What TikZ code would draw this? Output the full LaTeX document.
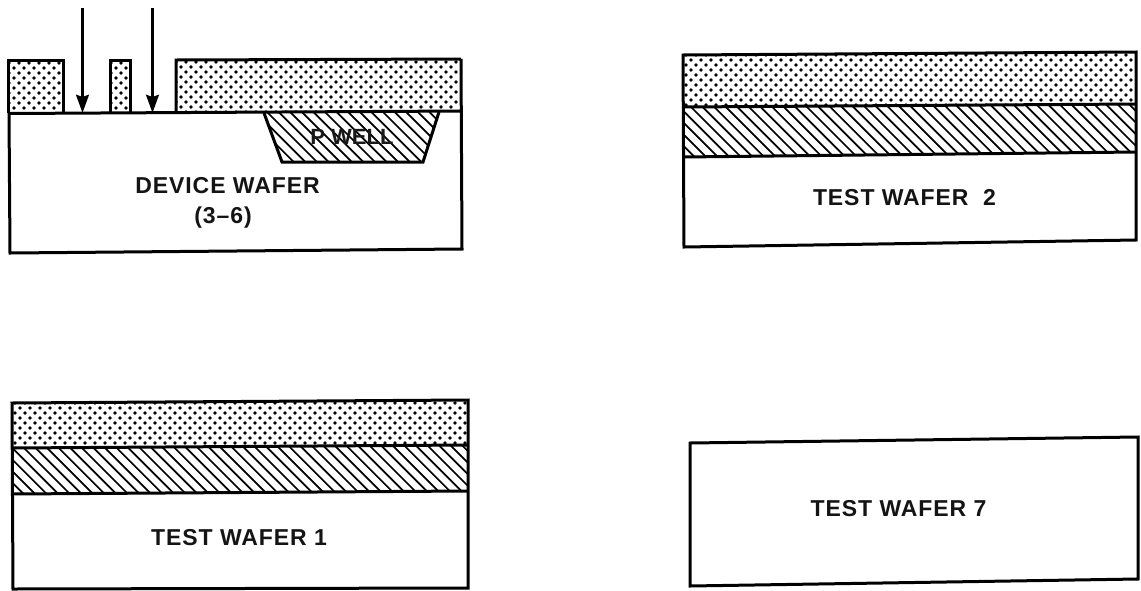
\documentclass[tikz,border=0pt]{standalone}
\usepackage{fontspec}
\setmainfont{Liberation Sans}
\usetikzlibrary{arrows.meta}
\tikzset{
  outline/.style={draw=black,line width=3pt,line join=miter},
  hatchline/.style={draw=black,line width=1.7pt},
  dotmark/.style={fill=black},
  label/.style={inner sep=0pt,font=\fontsize{23pt}{26pt}\selectfont\bfseries\addfontfeatures{LetterSpace=4},text=black!92},
  wellmark/.style={inner sep=0pt,font=\fontsize{22pt}{24pt}\selectfont\bfseries,text=black!90},
  ray/.style={draw=black,line width=3.6pt,-{Stealth[length=18pt,width=12.5pt,inset=2pt]}}
}
% #1 clip path, #2 x0, #3 x1, #4 y0, #5 y1
\newcommand{\resistdots}[5]{%
  \begin{scope}
    \clip #1;
    \foreach \rr in {0,...,12}{%
      \pgfmathsetmacro{\ry}{#4+3+5*\rr}
      \ifdim\ry pt<#5pt\relax
      \pgfmathsetmacro{\rs}{mod(\rr,2)*5}
      \foreach \cc in {0,...,46}{%
        \pgfmathsetmacro{\rx}{#2+\rs+10*\cc}
        \ifdim\rx pt<#3pt\relax
        \fill[dotmark] (\rx,\ry) circle[radius=1.9pt];
        \fi
      }
      \fi
    }
  \end{scope}}
% #1 clip path, #2 x0, #3 x1, #4 y0, #5 y1
\newcommand{\wellhatch}[5]{%
  \begin{scope}
    \clip #1;
    \pgfmathsetmacro{\hh}{#5-#4}
    \pgfmathtruncatemacro{\hn}{(#3-#2+#5-#4)/11.6+1}
    \foreach \ii in {0,...,\hn}{%
      \pgfmathsetmacro{\hx}{#2-\hh+11.6*\ii}
      \pgfmathsetmacro{\hxe}{#2+11.6*\ii}
      \draw[hatchline] (\hx,#4) -- (\hxe,#5);
    }
  \end{scope}}
\begin{document}
\begin{tikzpicture}[x=1pt,y=-1pt]
\useasboundingbox (0,0) rectangle (1141,590);
\fill[white] (0,0) rectangle (1141,590);

% Device wafer
\resistdots{(8,60) rectangle (63,113)}{9}{63}{60}{113}
\resistdots{(110,60) rectangle (130,113)}{111}{130}{60}{113}
\resistdots{(176,60) -- (461,59) -- (461,111) -- (176,113) -- cycle}{176}{461}{59}{113}
\wellhatch{(264,113) -- (282,162) -- (423,162) -- (439,112) -- cycle}{260}{440}{112}{163}
\draw[outline] (8,113) -- (8,60) -- (63,60) -- (63,113);
\draw[outline] (110,113) -- (110,60) -- (130,60) -- (130,113);
\draw[outline] (176,113) -- (176,60) -- (461,59);
\draw[outline] (264,113) -- (282,162) -- (423,162) -- (439,112);
\draw[outline] (9,113.5) -- (462,111) (461,59) -- (462,249) -- (10,253) -- (9,113);
\coordinate (rayA) at (82.5,8);
\coordinate (rayAend) at (82.5,113);
\coordinate (rayB) at (152.5,8);
\coordinate (rayBend) at (152.5,113);
\draw[ray] (rayA) -- (rayAend);
\draw[ray] (rayB) -- (rayBend);
\node[wellmark] (well) at (352,137) {P WELL};
\node[label] (dev) at (227.5,186) {DEVICE WAFER};
\node[label] (devn) at (223,218) {(3–6)};

% Test wafer 2
\resistdots{(683,55) -- (1136,52) -- (1136,104) -- (683,107) -- cycle}{686}{1136}{52}{107}
\wellhatch{(683,107) -- (1136,104) -- (1136,152) -- (683,157) -- cycle}{683}{1136}{104}{157}
\draw[outline] (683,55) -- (1136,52) -- (1136,240) -- (684,247) -- cycle;
\draw[outline] (683,107) -- (1136,104);
\draw[outline] (683,157) -- (1136,152);
\node[label] (tw2) at (904.5,198) {TEST WAFER\ \ 2};

% Test wafer 1
\resistdots{(12,403) -- (468,400) -- (468,445) -- (12,448) -- cycle}{15}{468}{400}{448}
\wellhatch{(12,448) -- (468,445) -- (468,491) -- (12,494) -- cycle}{12}{468}{445}{494}
\draw[outline] (12,403) -- (468,400) -- (468,588) -- (13,589) -- cycle;
\draw[outline] (12,448) -- (468,445);
\draw[outline] (12,494) -- (468,491);
\node[label] (tw1) at (239,538) {TEST WAFER 1};

% Test wafer 7
\draw[outline] (690,443) -- (1138,437) -- (1138,579) -- (690,586) -- cycle;
\node[label] (tw7) at (898.5,509) {TEST WAFER 7};
\end{tikzpicture}
\end{document}
